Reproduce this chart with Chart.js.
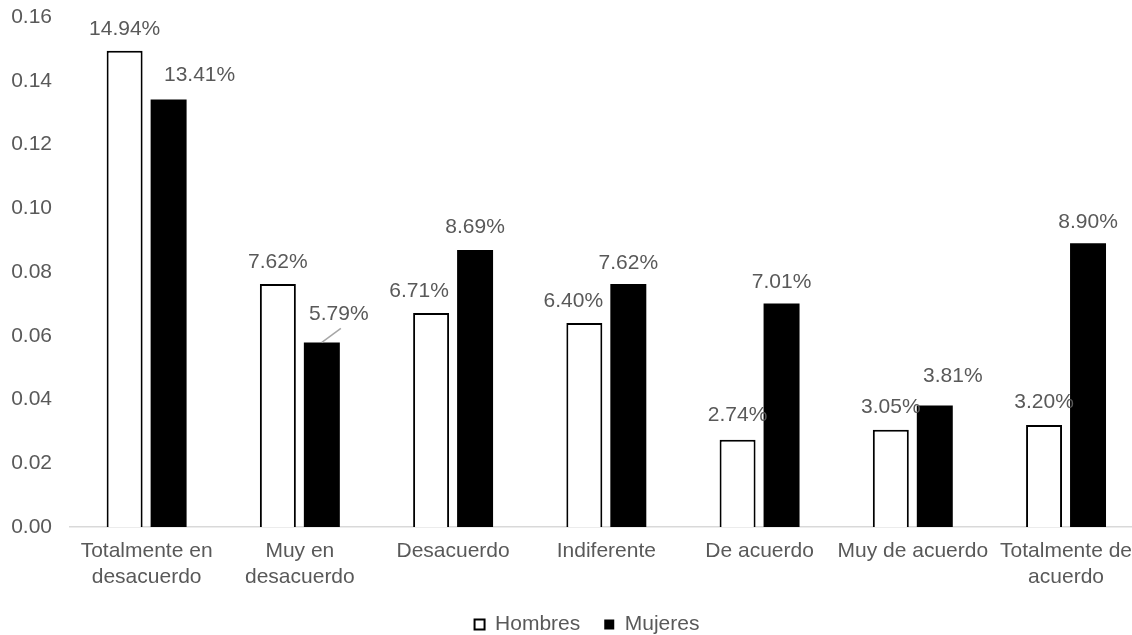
<!DOCTYPE html>
<html>
<head>
<meta charset="utf-8">
<script src="https://cdn.jsdelivr.net/npm/chart.js@4.4.1/dist/chart.umd.min.js"></script>
<style>
    html, body { margin: 0; padding: 0; overflow: hidden; background: #fff; }
    #wrap { width: 1144px; height: 635px; }
</style>
</head>
<body>
<div id="wrap"><canvas id="bar_chart"></canvas></div>
<script>
var categories = [["Totalmente en", "desacuerdo"], ["Muy en", "desacuerdo"], "Desacuerdo", "Indiferente", "De acuerdo", "Muy de acuerdo", ["Totalmente de", "acuerdo"]];
var hombres = [0.1494, 0.0762, 0.0671, 0.0640, 0.0274, 0.0305, 0.0320];
var mujeres = [0.1341, 0.0579, 0.0869, 0.0762, 0.0701, 0.0381, 0.0890];
var yTicks = [0.00, 0.02, 0.04, 0.06, 0.08, 0.10, 0.12, 0.14, 0.16];

// where each value label sits, relative to the top centre of its bar
var labelOffsetsH = [[0, -22], [0, -22], [-12, -22], [-11, -22], [0, -24], [0, -23], [0, -23]];
var labelOffsetsM = [[31, -24], [17, -28], [0, -23], [0, -21], [0, -21], [18, -29], [0, -21]];
var leaderM = [false, true, false, false, false, false, false];

var textColor = '#595959';
var fontFamily = '"Liberation Sans", Arial, sans-serif';

Chart.defaults.font.family = fontFamily;
Chart.defaults.font.size = 21;
Chart.defaults.color = textColor;

var barLabels = {
    id: 'barLabels',
    afterDatasetsDraw: function (chart) {
        var ctx = chart.ctx;
        ctx.save();
        ctx.font = '21px ' + fontFamily;
        ctx.fillStyle = textColor;
        ctx.textAlign = 'center';
        ctx.textBaseline = 'middle';
        chart.data.datasets.forEach(function (ds, i) {
            chart.getDatasetMeta(i).data.forEach(function (bar, j) {
                var off = ds.labelOffsets[j];
                var x = bar.x + off[0];
                var y = bar.y + off[1];
                if (ds.leader && ds.leader[j]) {
                    ctx.strokeStyle = '#a6a6a6';
                    ctx.lineWidth = 1.5;
                    ctx.beginPath();
                    ctx.moveTo(bar.x, bar.y);
                    ctx.lineTo(x + 2, y + 14);
                    ctx.stroke();
                }
                ctx.fillText((ds.data[j] * 100).toFixed(2) + '%', x, y);
            });
        });
        ctx.restore();
    }
};

// legend sits a little right of the canvas centre in the original
var legendShift = {
    id: 'legendShift',
    afterLayout: function (chart) {
        chart.legend.left += 10;
        chart.legend.right += 10;
    }
};

new Chart(document.getElementById("bar_chart").getContext("2d"), {
    type: 'bar',
    data: {
        labels: categories,
        datasets: [{
            label: "Hombres",
            data: hombres,
            backgroundColor: '#ffffff',
            borderColor: '#000000',
            borderWidth: 2,
            labelOffsets: labelOffsetsH
        }, {
            label: "Mujeres",
            data: mujeres,
            backgroundColor: '#000000',
            borderColor: '#000000',
            borderWidth: 0,
            labelOffsets: labelOffsetsM,
            leader: leaderM
        }]
    },
    options: {
        responsive: true,
        maintainAspectRatio: false,
        animation: false,
        categoryPercentage: 0.574,
        barPercentage: 0.818,
        layout: { padding: { top: 17, left: 10, right: 0, bottom: -10 } },
        plugins: {
            tooltip: { enabled: false },
            legend: {
                position: 'bottom',
                labels: { boxWidth: 10, boxHeight: 10, padding: 24, color: textColor }
            }
        },
        scales: {
            x: {
                z: 1,
                grid: { display: false, drawTicks: false },
                border: { display: true, color: '#d9d9d9', width: 1.5 },
                afterFit: function (axis) { axis.height = 63; },
                ticks: { padding: 12, maxRotation: 0, autoSkip: false, color: textColor }
            },
            y: {
                min: 0,
                max: 0.16,
                grid: { display: false, drawTicks: false },
                border: { display: false },
                afterBuildTicks: function (axis) {
                    axis.ticks = yTicks.map(function (v) { return { value: v }; });
                },
                afterFit: function (axis) {
                    axis.width = 60;
                    axis.paddingTop = 0;
                    axis.paddingBottom = 0;
                },
                ticks: {
                    padding: 18,
                    color: textColor,
                    callback: function (v) { return Number(v).toFixed(2); }
                }
            }
        }
    },
    plugins: [barLabels, legendShift]
});
</script>
</body>
</html>
